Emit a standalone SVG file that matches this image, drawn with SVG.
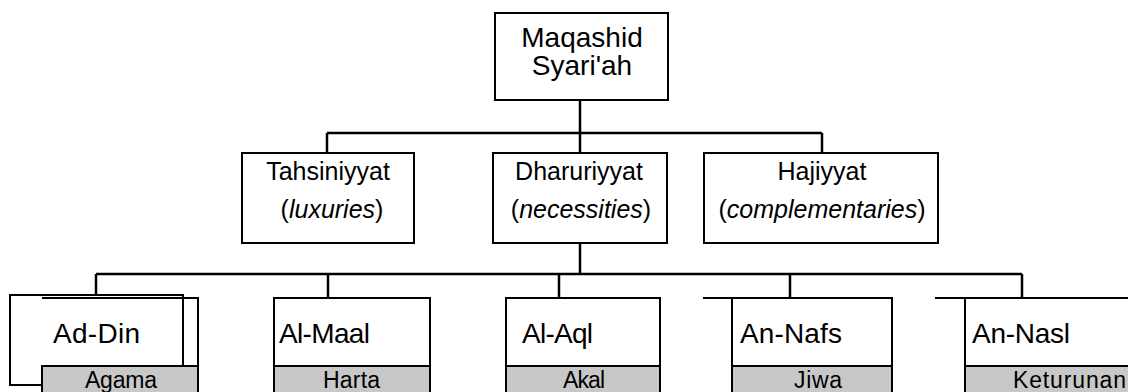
<svg xmlns="http://www.w3.org/2000/svg" width="1128" height="392" viewBox="0 0 1128 392">
<style>
  .box { fill: #ffffff; stroke: #000000; stroke-width: 2; }
  .sub { fill: #c8c8c8; stroke: #000000; stroke-width: 2; }
  .ln { fill: none; stroke: #000000; stroke-width: 2; }
  .conn { fill: none; stroke: #000000; stroke-width: 2.5; }
  text { font-family: "Liberation Sans", Arial, sans-serif; fill: #000000; }
  .t1 { font-size: 28px; text-anchor: middle; }
  .t2 { font-size: 25px; text-anchor: middle; }
  .t3 { font-size: 28px; }
  .t4 { font-size: 23px; }
  .it { font-style: italic; }
</style>
<rect width="1128" height="392" fill="#ffffff"/>

<g id="connectors">
  <path class="conn" d="M580 100 V133 M327 133 H822 M327 133 V153 M580 133 V153 M822 133 V153"/>
  <path class="conn" d="M580 243 V274 M96 274 H1022 M96 274 V295 M328 274 V298 M559 274 V298 M790 274 V298 M1022 274 V298"/>
</g>

<g id="maqashid">
  <rect class="box" x="495" y="13" width="173" height="87"/>
  <text class="t1" x="582" y="47">Maqashid</text>
  <text class="t1" x="582" y="75">Syari'ah</text>
</g>

<g id="tahsiniyyat">
  <rect class="box" x="242" y="153" width="172" height="90"/>
  <text class="t2" x="328" y="180">Tahsiniyyat</text>
  <text class="t2" x="332" y="218">(<tspan class="it">luxuries</tspan>)</text>
</g>

<g id="dharuriyyat">
  <rect class="box" x="493" y="153" width="174" height="90"/>
  <text class="t2" x="579" y="180">Dharuriyyat</text>
  <text class="t2" x="581" y="218">(<tspan class="it">necessities</tspan>)</text>
</g>

<g id="hajiyyat">
  <rect class="box" x="704" y="153" width="234" height="90"/>
  <text class="t2" x="822" y="180">Hajiyyat</text>
  <text class="t2" x="822" y="218">(<tspan class="it">complementaries</tspan>)</text>
</g>

<g id="ad-din">
  <rect class="box" x="10" y="295" width="173" height="90"/>
  <path class="ln" d="M42 298 H198 V400"/>
  <rect class="sub" x="42" y="366" width="156" height="40"/>
  <text class="t3" x="53" y="343" textLength="87">Ad-Din</text>
  <text class="t4" x="85" y="388" textLength="72">Agama</text>
</g>

<g id="al-maal">
  <rect class="box" x="274" y="298" width="156" height="110"/>
  <rect class="sub" x="274" y="366" width="156" height="40"/>
  <text class="t3" x="279" y="343" textLength="91">Al-Maal</text>
  <text class="t4" x="323" y="388" textLength="57">Harta</text>
</g>

<g id="al-aql">
  <rect class="box" x="506" y="298" width="154" height="110"/>
  <rect class="sub" x="506" y="366" width="154" height="40"/>
  <text class="t3" x="522" y="343" textLength="71">Al-Aql</text>
  <text class="t4" x="563" y="388" textLength="42">Akal</text>
</g>

<g id="an-nafs">
  <path class="ln" d="M703 298 H732"/>
  <rect class="box" x="732" y="298" width="160" height="110"/>
  <rect class="sub" x="732" y="366" width="160" height="40"/>
  <text class="t3" x="740" y="343" textLength="102">An-Nafs</text>
  <text class="t4" x="794" y="388" textLength="48">Jiwa</text>
</g>

<g id="an-nasl">
  <path class="ln" d="M935 298 H965"/>
  <rect class="box" x="965" y="298" width="220" height="110"/>
  <rect class="sub" x="965" y="366" width="220" height="40"/>
  <text class="t3" x="972" y="343" textLength="98">An-Nasl</text>
  <text class="t4" x="1013" y="388" textLength="113">Keturunan</text>
</g>
</svg>
